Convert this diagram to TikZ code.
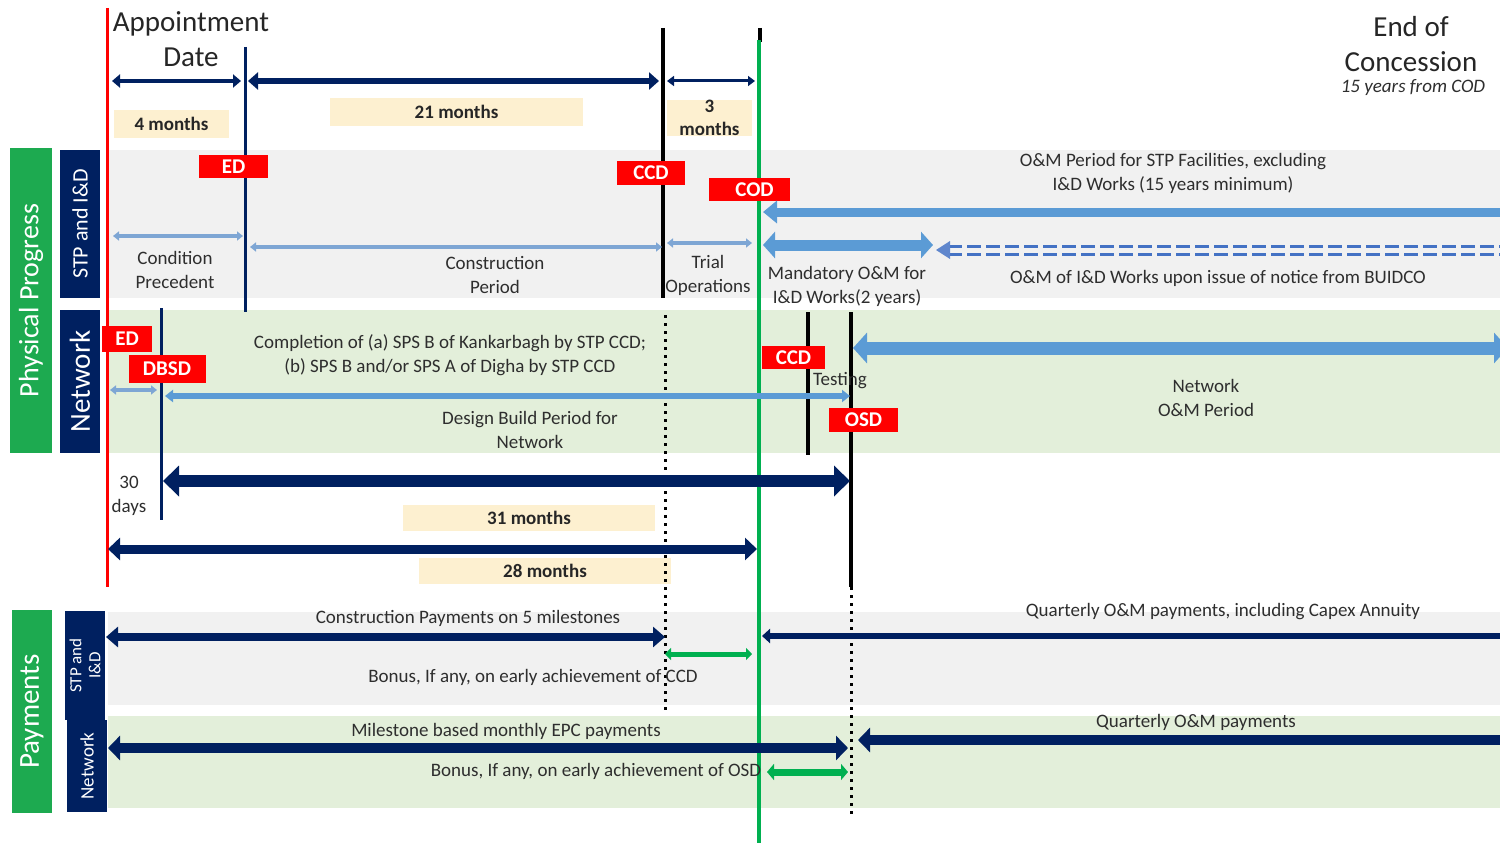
\documentclass[tikz,border=0pt]{standalone}
\usepackage{fontspec}
\setmainfont{Carlito}
\usetikzlibrary{arrows.meta}

\definecolor{navy}{HTML}{002060}
\definecolor{mkred}{HTML}{FF0000}
\definecolor{sidegreen}{HTML}{1DAA50}
\definecolor{lineg}{HTML}{00B050}
\definecolor{steel}{HTML}{5B9BD5}
\definecolor{steellt}{HTML}{7EA6D4}
\definecolor{dashblue}{HTML}{4472C4}
\definecolor{bandgrey}{HTML}{F1F1F1}
\definecolor{bandgreen}{HTML}{E3EFDA}
\definecolor{tanbox}{HTML}{FDF0D0}
\definecolor{txt}{HTML}{2E2E2E}

\tikzset{
  lbl/.style={text=txt, align=center, inner sep=0pt, font=\fontsize{19}{24}\selectfont},
  title/.style={text=black!85, align=center, inner sep=0pt, font=\fontsize{29}{35}\selectfont},
  marker/.style={fill=mkred, text=white, inner sep=0pt, font=\bfseries\fontsize{21}{24}\selectfont},
  dur/.style={fill=tanbox, text=black!85, inner sep=0pt, align=center, font=\bfseries\fontsize{19}{23}\selectfont},
  sidebox/.style={rotate=90, text=white, inner sep=0pt, align=center},
  both/.style 2 args={arrows={Triangle[length=#1,width=#2]}-{Triangle[length=#1,width=#2]}},
  lefthead/.style 2 args={arrows={Triangle[length=#1,width=#2]}-},
  band/.style={draw=none}
}

\begin{document}
\begin{tikzpicture}[x=1pt,y=-1pt]
\useasboundingbox (0,0) rectangle (1500,843);
\fill[white] (0,0) rectangle (1500,843);

% ---------- row bands ----------
\fill[band, bandgrey]  (108,150) rectangle (1500,298);
\fill[band, bandgreen] (108,310) rectangle (1500,453);
\fill[band, bandgrey]  (108,612) rectangle (1500,705);
\fill[band, bandgreen] (108,716) rectangle (1500,808);

% ---------- row headers ----------
\node[sidebox, fill=sidegreen, minimum width=305pt, minimum height=42pt,
      font=\fontsize{28}{30}\selectfont] (hphys) at (31,300.5) {Physical Progress};
\node[sidebox, fill=navy, minimum width=148pt, minimum height=40pt,
      font=\fontsize{22}{24}\selectfont] (hstp) at (80,224) {STP and I\&D};
\node[sidebox, fill=navy, minimum width=143pt, minimum height=40pt,
      font=\fontsize{29}{30}\selectfont] (hnet) at (80,381.5) {Network};
\node[sidebox, fill=sidegreen, minimum width=203pt, minimum height=40pt,
      font=\fontsize{29}{30}\selectfont] (hpay) at (32,711.5) {Payments};
\node[sidebox, fill=navy, minimum width=109pt, minimum height=40pt,
      font=\fontsize{17}{19}\selectfont] (hpstp) at (85,665.5) {STP and\\I\&D};
\node[sidebox, fill=navy, minimum width=92pt, minimum height=40pt,
      font=\fontsize{19}{20}\selectfont] (hpnet) at (87,766) {Network};

% ---------- headings ----------
\node[title] (appt) at (191,39) {Appointment\\Date};
\node[title] (eoc) at (1411,44.5) {End of\\Concession};
\node[lbl, font=\itshape\fontsize{19}{22}\selectfont] (eocnote) at (1413,88) {15 years from COD};

% ---------- duration boxes ----------
\node[dur, minimum width=115pt, minimum height=28pt] (d4)  at (171.5,124) {4 months};
\node[dur, minimum width=253pt, minimum height=28pt] (d21) at (456.5,112) {21 months};
\node[dur, minimum width=85pt,  minimum height=36pt] (d3)  at (709.5,118) {3\\months};
\node[dur, minimum width=252pt, minimum height=26pt] (d31) at (529,518) {31 months};
\node[dur, minimum width=252pt, minimum height=26pt] (d28) at (545,571) {28 months};

% ---------- milestone coordinates ----------
\coordinate (apTop) at (107,8);    \coordinate (apBot) at (107,587);
\coordinate (edTop) at (245,47);   \coordinate (edBot) at (245,312);
\coordinate (ccdTop) at (663,28);  \coordinate (ccdBot) at (663,298);
\coordinate (codTop) at (760,28);  \coordinate (codMid) at (760,42);
\coordinate (grTop) at (759,40);   \coordinate (grBot) at (759,843);
\coordinate (dbTop) at (161,308);  \coordinate (dbBot) at (161,520);
\coordinate (dtTop) at (665,315);  \coordinate (dtBot) at (665,710);
\coordinate (nccTop) at (808,312); \coordinate (nccBot) at (808,455);
\coordinate (osTop) at (851,312);  \coordinate (osMid) at (851,587);
\coordinate (osBot) at (851,818);

% ---------- milestone lines ----------
\draw[mkred, line width=3pt] (apTop) -- (apBot);
\draw[navy, line width=3pt] (edTop) -- (edBot);
\draw[navy, line width=3pt] (dbTop) -- (dbBot);
\draw[black, line width=3pt, dash pattern=on 3pt off 5pt] (dtTop) -- (dtBot);
\draw[black, line width=3pt, dash pattern=on 3pt off 5pt] (osMid) -- (osBot);
\draw[black, line width=4pt] (nccTop) -- (nccBot);
\draw[black, line width=4pt] (osTop) -- (osMid);
\draw[black, line width=4pt] (ccdTop) -- (ccdBot);
\draw[black, line width=4pt] (codTop) -- (codMid);
\draw[lineg, line width=4pt] (grTop) -- (grBot);

% ---------- markers ----------
\node[marker, minimum width=50pt, minimum height=26pt] (mEDn) at (127,339) {ED};
\node[marker, minimum width=77pt, minimum height=28pt] (mDBSD) at (167,369) {DBSD};
\node[marker, minimum width=63pt, minimum height=23pt] (mCCDn) at (793.5,357.5) {CCD};
\node[marker, minimum width=69pt, minimum height=24pt] (mOSD) at (863.5,420) {OSD};
\node[marker, minimum width=69pt, minimum height=23pt] (mED) at (233.5,166.5) {ED};
\node[marker, minimum width=68pt, minimum height=24pt] (mCCD) at (651,173) {CCD};
\node[marker, minimum width=81pt, minimum height=23pt] (mCOD) at (749.5,189.5) {\hspace*{10pt}COD};

% ---------- top duration arrows ----------
\coordinate (t1a) at (112,81);  \coordinate (t1b) at (241,81);
\coordinate (t2a) at (248,81);  \coordinate (t2b) at (659,81);
\coordinate (t3a) at (667,81);  \coordinate (t3b) at (755,81);
\draw[navy, line width=4pt, both={8pt}{13pt}] (t1a) -- (t1b);
\draw[navy, line width=6pt, both={10pt}{17pt}] (t2a) -- (t2b);
\draw[navy, line width=3pt, both={7pt}{10pt}] (t3a) -- (t3b);

% ---------- STP and I&D row ----------
\coordinate (s1a) at (113,236); \coordinate (s1b) at (243,236);
\coordinate (s2a) at (250,247); \coordinate (s2b) at (662,247);
\coordinate (s3a) at (667,243); \coordinate (s3b) at (752,243);
\coordinate (s4a) at (763,212); \coordinate (s4b) at (1500,212);
\coordinate (s5a) at (763,245); \coordinate (s5b) at (933,245);
\coordinate (s6a) at (936,250); \coordinate (s6b) at (1500,250);
\draw[steellt, line width=4pt, both={6pt}{9pt}] (s1a) -- (s1b);
\draw[steellt, line width=4pt, both={6pt}{9pt}] (s2a) -- (s2b);
\draw[steellt, line width=4pt, both={6pt}{9pt}] (s3a) -- (s3b);
\draw[steel, line width=9pt, lefthead={14pt}{22pt}] (s4a) -- (s4b);
\draw[steel, line width=11pt, both={12pt}{26pt}] (s5a) -- (s5b);
\draw[dashblue, line width=3pt, dash pattern=on 14pt off 5pt] ([yshift=-4pt]s6a) ++(12,0) -- ([yshift=-4pt]s6b);
\draw[dashblue, line width=3pt, dash pattern=on 14pt off 5pt] ([yshift=4pt]s6a) ++(12,0) -- ([yshift=4pt]s6b);
\fill[dashblue!85] (s6a) -- ++(14,-9) -- ++(0,18) -- cycle;

\node[lbl] (tcp) at (175,270) {Condition\\Precedent};
\node[lbl] (tcon) at (495,275) {Construction\\Period};
\node[lbl] (ttrial) at (708,275) {Trial\\Operations};
\node[lbl] (tmand) at (847,286) {Mandatory O\&M for\\I\&D Works(2 years)};
\node[lbl] (tomstp) at (1173,173) {O\&M Period for STP Facilities, excluding\\I\&D Works (15 years minimum)};
\node[lbl] (tomid) at (1218,278) {O\&M of I\&D Works upon issue of notice from BUIDCO};

% ---------- Network row ----------
\coordinate (n1a) at (110,390); \coordinate (n1b) at (157,390);
\coordinate (n2a) at (165,396); \coordinate (n2b) at (850,396);
\coordinate (n3a) at (853,348); \coordinate (n3b) at (1508,348);
\draw[steellt, line width=4pt, both={6pt}{9pt}] (n1a) -- (n1b);
\draw[steel, line width=6pt, both={8pt}{12pt}] (n2a) -- (n2b);
\draw[steel, line width=13pt, both={14pt}{30pt}] (n3a) -- (n3b);

\node[lbl] (tcompl) at (450,355) {Completion of (a) SPS B of Kankarbagh by STP CCD;\\(b) SPS B and/or SPS A of Digha by STP CCD};
\node[lbl] (tdb) at (530,430) {Design Build Period for\\Network};
\node[lbl] (ttest) at (840,381) {Testing};
\node[lbl] (tnom) at (1206,398) {Network\\O\&M Period};

% ---------- overall durations ----------
\node[lbl] (t30) at (129,496) {30\\days};
\coordinate (o1a) at (163,481); \coordinate (o1b) at (850,481);
\coordinate (o2a) at (108,549); \coordinate (o2b) at (757,549);
\draw[navy, line width=12pt, both={16pt}{30pt}] (o1a) -- (o1b);
\draw[navy, line width=9pt, both={12pt}{22pt}] (o2a) -- (o2b);

% ---------- Payments ----------
\coordinate (p1a) at (106,637); \coordinate (p1b) at (665,637);
\coordinate (p2a) at (665,654); \coordinate (p2b) at (752,654);
\coordinate (p3a) at (762,636); \coordinate (p3b) at (1500,636);
\coordinate (p4a) at (108,748); \coordinate (p4b) at (848,748);
\coordinate (p5a) at (767,772); \coordinate (p5b) at (848,772);
\coordinate (p6a) at (858,740); \coordinate (p6b) at (1500,740);
\draw[navy, line width=8pt, both={12pt}{20pt}] (p1a) -- (p1b);
\draw[lineg, line width=5pt, both={6pt}{12pt}] (p2a) -- (p2b);
\draw[navy, line width=6pt, lefthead={8pt}{14pt}] (p3a) -- (p3b);
\draw[navy, line width=10pt, both={12pt}{24pt}] (p4a) -- (p4b);
\draw[lineg, line width=7pt, both={7pt}{16pt}] (p5a) -- (p5b);
\draw[navy, line width=10pt, lefthead={12pt}{24pt}] (p6a) -- (p6b);

\node[lbl] (tcpay) at (468,618) {Construction Payments on 5 milestones};
\node[lbl] (tbccd) at (533,677) {Bonus, If any, on early achievement of CCD};
\node[lbl] (tqcap) at (1223,612) {Quarterly O\&M payments, including Capex Annuity};
\node[lbl] (tmepc) at (506,731) {Milestone based monthly EPC payments};
\node[lbl] (tbosd) at (596,771) {Bonus, If any, on early achievement of OSD};
\node[lbl] (tqnet) at (1196,722) {Quarterly O\&M payments};
\end{tikzpicture}
\end{document}
